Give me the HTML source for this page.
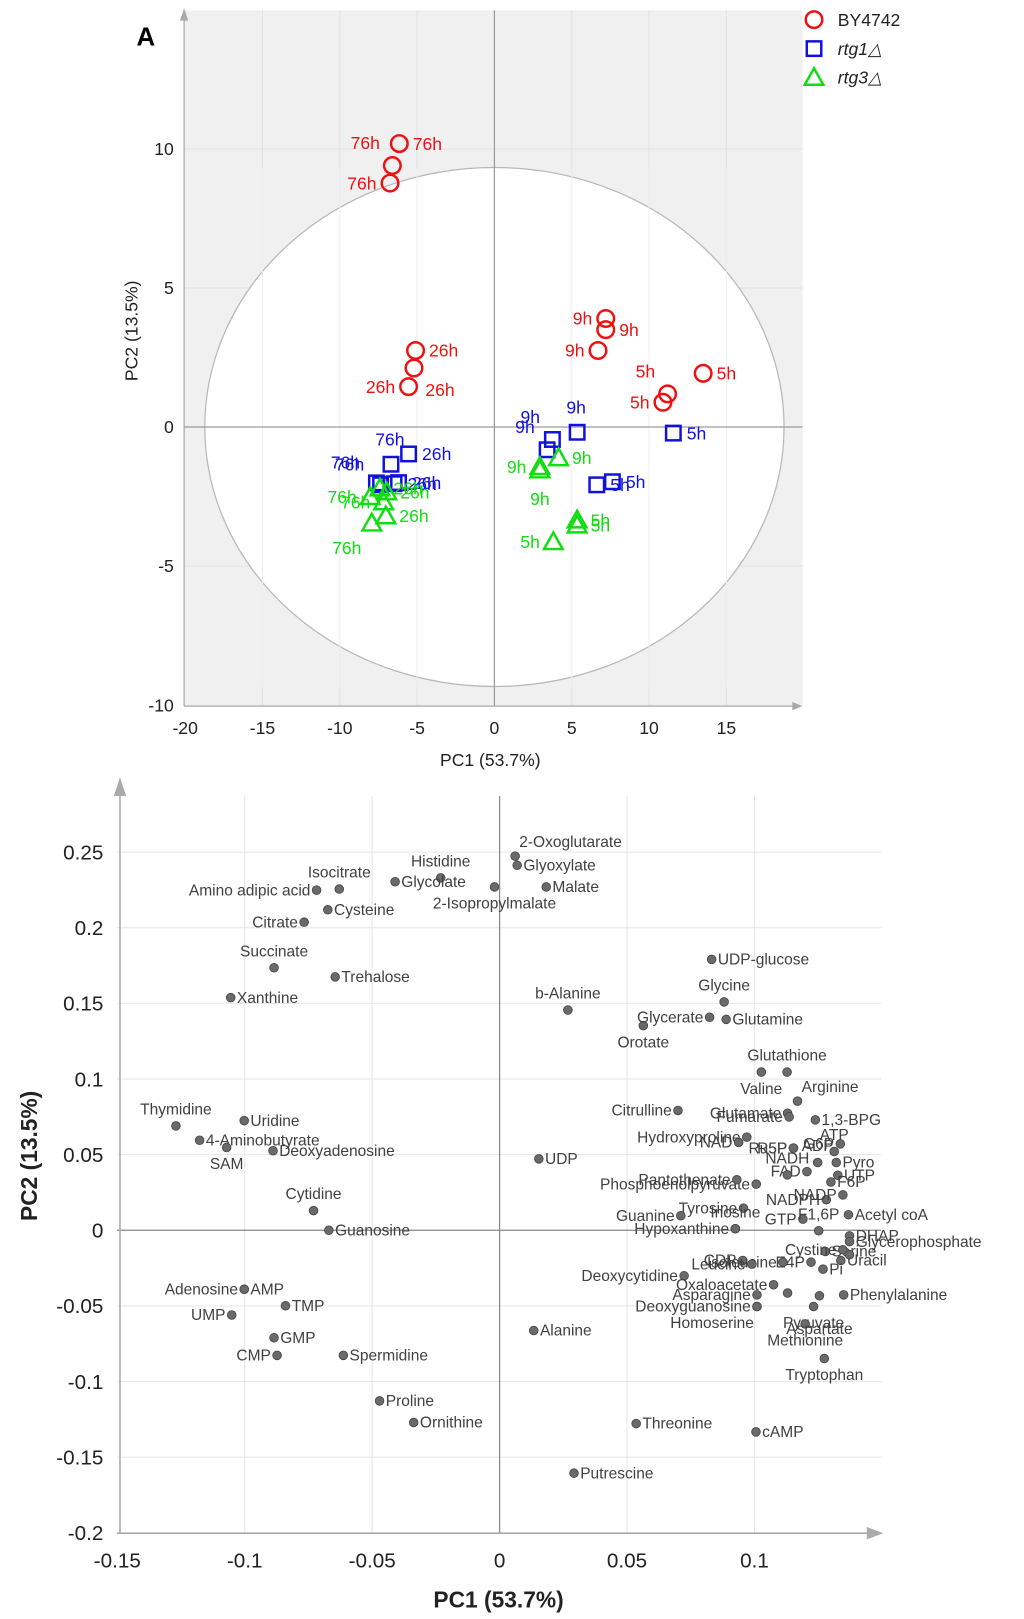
<!DOCTYPE html>
<html><head><meta charset="utf-8"><style>
html,body{margin:0;padding:0;background:#fff}
svg{display:block}
text{font-family:"Liberation Sans",sans-serif}
</style></head><body>
<svg id="s" width="1024" height="1619" viewBox="0 0 990 1566" preserveAspectRatio="none" xmlns="http://www.w3.org/2000/svg"></svg>
<script>
// ---------- Score plot data ----------
const scoreSeries = ["BY4742","rtg1","rtg3"];
const scoreGroup = [0,0,0,0,0,0,0,0,0,0,0,0, 1,1,1,1,1,1,1,1,1,1,1,1, 2,2,2,2,2,2,2,2,2,2,2,2];
const scoreX = [-6.15,-6.6,-6.75,-5.1,-5.2,-5.55,7.2,7.2,6.7,13.5,11.2,10.9,
  -5.55,-6.69,-7.63,-7.36,-6.49,-6.2,3.75,3.41,5.35,6.62,7.63,11.57,
  -8.03,-7.16,-7.93,-7.02,-6.96,-7.4,2.94,2.94,4.15,5.35,5.35,3.81];
const scoreY = [10.19,9.4,8.77,2.75,2.12,1.45,3.9,3.5,2.75,1.93,1.19,0.89,
  -0.97,-1.34,-2.01,-2.08,-2.04,-2.0,-0.45,-0.82,-0.19,-2.08,-1.97,-0.22,
  -2.51,-2.7,-3.46,-3.2,-2.34,-2.2,-1.43,-1.55,-1.11,-3.35,-3.53,-4.13];
const scoreLabel = ["76h","76h","76h","26h","26h","26h","9h","9h","9h","5h","5h","5h",
  "26h","76h","76h","76h","26h","26h","9h","9h","9h","5h","5h","5h",
  "76h","76h","76h","26h","26h","26h","9h","9h","9h","5h","5h","5h"];
const scoreLabelPos = ["r","tl","l","r","br","l","l","r","l","r","tl","l",
  "r","t","t2","t2","r","r","tl","tl","t","r","r","r",
  "l","l","l2","r","r","r","l","b","r","r","r","l"];
const xTicks = [-20,-15,-10,-5,0,5,10,15];
const yTicks = [-10,-5,0,5,10];
// ---------- Loading plot data ----------
const loadNames = ["2-Oxoglutarate","Glyoxylate","Malate","2-Isopropylmalate","Histidine","Glycolate","Isocitrate","Amino adipic acid","Cysteine","Citrate","Succinate","Trehalose","Xanthine",
 "UDP-glucose","Glycine","b-Alanine","Orotate","Glycerate","Glutamine","Valine","Glutathione","Arginine",
 "Citrulline","Glutamate","Fumarate","1,3-BPG","Hydroxyproline","NAD","R5P","Ru5P","G6P","ATP","Pyro","ADP","FAD","NADH","Phosphoenolpyruvate","UTP","F6P","NADPH","NADP","Tyrosine","Pantothenate","Guanine","GTP","Acetyl coA","Inosine","F1,6P","DHAP","Glycerophosphate","Serine","Cystine","Uracil","CDP","E4P","Isoleucine","Leucine","Pi","Hypoxanthine","Deoxycytidine","Oxaloacetate","Lysine","Asparagine","Deoxyguanosine","Homoserine","Proline2","Phenylalanine","Pyruvate","Methionine","Aspartate","Tryptophan","cAMP","Threonine","Putrescine","Alanine","UDP",
 "Thymidine","Uridine","4-Aminobutyrate","SAM","Deoxyadenosine","Cytidine","Guanosine","Adenosine","AMP","TMP","UMP","GMP","CMP","Spermidine","Proline","Ornithine"];
const loadX = [0.0061,0.0069,0.0183,-0.002,-0.0231,-0.041,-0.0629,-0.0718,-0.0674,-0.0767,-0.0885,-0.0645,-0.1055,
 0.0832,0.0881,0.0268,0.0564,0.0824,0.0889,0.1027,0.1128,0.1169,
 0.07,0.113,0.1136,0.1239,0.097,0.0938,0.1153,0.1153,0.1337,0.1313,0.1321,0.1248,0.1206,0.1129,0.1007,0.1327,0.13,0.1282,0.1347,0.0957,0.0931,0.0711,0.119,0.1369,0.0925,0.1252,0.1373,0.1373,0.1278,0.1347,0.1339,0.0954,0.1222,0.1112,0.099,0.1269,0.0925,0.0724,0.1075,0.113,0.101,0.101,0.101,0.1373,0.135,0.1232,0.1199,0.1255,0.1274,0.1006,0.0536,0.0292,0.0134,0.0154,
 -0.127,-0.1002,-0.1177,-0.1071,-0.0889,-0.073,-0.067,-0.1002,-0.1002,-0.084,-0.1051,-0.0885,-0.0873,-0.0613,-0.0471,-0.0337];
const loadY = [0.2474,0.2413,0.227,0.227,0.233,0.2304,0.2256,0.2249,0.2119,0.2037,0.1736,0.1675,0.1538,
 0.1791,0.151,0.1456,0.1353,0.1408,0.1394,0.1046,0.1046,0.0854,
 0.0792,0.0774,0.075,0.073,0.0616,0.0581,0.0543,0.0543,0.0571,0.0521,0.0448,0.0448,0.0388,0.0366,0.0305,0.0364,0.0319,0.0202,0.0234,0.0146,0.0334,0.0096,0.0074,0.0103,0.001,-0.0003,-0.0037,-0.0075,-0.014,-0.0129,-0.02,-0.02,-0.0211,-0.0211,-0.0224,-0.0257,0.001,-0.0301,-0.036,-0.0415,-0.0427,-0.0504,-0.0504,-0.0162,-0.0427,-0.0504,-0.0619,-0.0433,-0.0848,-0.1333,-0.1278,-0.1606,-0.0663,0.0472,
 0.069,0.0725,0.0595,0.0547,0.0526,0.013,0,-0.039,-0.039,-0.0499,-0.056,-0.0711,-0.0827,-0.0827,-0.1128,-0.1271];
const loadPos = ["tr","r","r","b","t","r","t","l","r","l","t","r","r",
 "r","t","t","b","l","r","b","t","tr",
 "l","l","l","r","l","l","l","l","l","t","r","t","l","t","l","r","r","l","l","l","l","l","l","r","t","t","r","r","r","l","r","l","l","l","l","r","l","l","l","n","l","l","bl","n","r","b","b","b2","b","r","r","r","r","r",
 "t","r","r","b","r","t","r","l","r","r","l","r","l","r","r","r"];
const lxTicks = [-0.15,-0.1,-0.05,0,0.05,0.1];
const lyTicks = [-0.2,-0.15,-0.1,-0.05,0,0.05,0.1,0.15,0.2,0.25];

const S = document.getElementById('s');
const NS = "http://www.w3.org/2000/svg";
function mk(tag, attrs, parent, txt){
  const e = document.createElementNS(NS, tag);
  for (const k in attrs) e.setAttribute(k, attrs[k]);
  if (txt !== undefined) e.textContent = txt;
  (parent || S).appendChild(e);
  return e;
}
// ---------- Score plot ----------
const sx = v => 478 + v*14.95;
const sy = v => 413 - v*26.9;
const g1 = mk('g', {});  
let r = mk('rect',{x:178,y:10,width:598,height:673,fill:'#f0f0f0'},g1);
 
xTicks.forEach(t=>{ if(t!==0 && t!==-20){ let l=mk('line',{x1:sx(t),x2:sx(t),y1:10,y2:683,stroke:'#e2e2e2'},g1);  }});
yTicks.forEach(t=>{ if(t!==0 && t!==-10){ let l=mk('line',{x1:178,x2:776,y1:sy(t),y2:sy(t),stroke:'#e2e2e2'},g1);  }});
let el = mk('ellipse',{cx:sx(0),cy:sy(0),rx:280,ry:251,fill:'#fff',stroke:'#b8b8b8','stroke-width':1.2},g1);
 
xTicks.forEach(t=>{ if(t!==0 && t!==-20){ let l=mk('line',{x1:sx(t),x2:sx(t),y1:162,y2:665,stroke:'#eeeeee'},g1);  }});
let z1=mk('line',{x1:sx(0),x2:sx(0),y1:10,y2:683,stroke:'#9a9a9a','stroke-width':1.2},g1);  
let z2=mk('line',{x1:178,x2:776,y1:sy(0),y2:sy(0),stroke:'#9a9a9a','stroke-width':1.2},g1);  
let ax=mk('line',{x1:178,x2:770,y1:683,y2:683,stroke:'#aaa','stroke-width':1.2},g1);  
let ay=mk('line',{x1:178,x2:178,y1:683,y2:16,stroke:'#aaa','stroke-width':1.2},g1);  
let ar1=mk('path',{d:'M776 683 L766 679 L766 687 Z',fill:'#aaa'},g1);  
let ar2=mk('path',{d:'M178 8 L174 20 L182 20 Z',fill:'#aaa'},g1);  
xTicks.forEach(t=>{ let tx=mk('text',{x:sx(t),y:710,'font-size':17,'text-anchor':'middle',fill:'#222'},g1,String(t));  });
yTicks.forEach(t=>{ let tx=mk('text',{x:168,y:sy(t)+6,'font-size':17,'text-anchor':'end',fill:'#222'},g1,String(t));  });
let xt=mk('text',{x:474,y:741,'font-size':17,'text-anchor':'middle',fill:'#222'},g1,'PC1 (53.7%)');  
let yt=mk('text',{x:0,y:0,'font-size':17,'text-anchor':'middle',fill:'#222',transform:'translate(133,320) rotate(-90)'},g1,'PC2 (13.5%)');  
let pa=mk('text',{x:132,y:44,'font-size':25,'font-weight':'bold',fill:'#000'},g1,'A');  
const colors=['#ee1111','#1111dd','#11dd11'];
function marker(g, type, x, y, parent){
  const c = colors[type];
  if(type===0) return mk('circle',{cx:x,cy:y,r:8,fill:'none',stroke:c,'stroke-width':2.4},parent);
  if(type===1) return mk('rect',{x:x-7,y:y-7,width:14,height:14,fill:'none',stroke:c,'stroke-width':2.4},parent);
  return mk('path',{d:`M${x} ${y-9} L${x+9} ${y+7} L${x-9} ${y+7} Z`,fill:'none',stroke:c,'stroke-width':2.4,'stroke-linejoin':'miter'},parent);
}
const offs = {r:[13,6,'start'],l:[-13,6,'end'],tl:[-12,-16,'end'],br:[11,27,'start'],t:[-1,-18,'middle'],t2:[-30,-14,'middle'],l2:[-10,30,'end'],b:[0,34,'middle']};
for(let i=0;i<scoreX.length;i++){
  const x=sx(scoreX[i]), y=sy(scoreY[i]), gi=scoreGroup[i];
  const m = marker(gi,gi,x,y,g1);
  
  
  const o = offs[scoreLabelPos[i]];
  const t = mk('text',{x:x+o[0],y:y+o[1],'font-size':17,'text-anchor':o[2],fill:colors[gi]},g1,scoreLabel[i]);
  
  
}
// legend
const lg = mk('g',{},g1);  
const legTxt=[['BY4742',false],['rtg1△',true],['rtg3△',true]];
legTxt.forEach((d,i)=>{
  const y=19+i*28;
  const m=marker(i,i,787,y,lg);
  
  
  const t=mk('text',{x:810,y:y+6,'font-size':17,fill:'#222','font-style':d[1]?'italic':'normal'},lg,d[0]);
  
  
});
// ---------- Loading plot ----------
const lx = v => 483 + v*2464;
const ly = v => 1190 - v*1463;
const g2 = mk('g',{});  
lxTicks.forEach(t=>{ if(t!==0 && t!==-0.15){ let l=mk('line',{x1:lx(t),x2:lx(t),y1:770,y2:1483,stroke:'#e6e6e6'},g2);  }});
lyTicks.forEach(t=>{ if(t!==0 && t!==-0.2){ let l=mk('line',{x1:113,x2:852,y1:ly(t),y2:ly(t),stroke:'#e6e6e6'},g2);  }});
let lz1=mk('line',{x1:lx(0),x2:lx(0),y1:770,y2:1483,stroke:'#888','stroke-width':1.2},g2);  
let lz2=mk('line',{x1:113,x2:852,y1:ly(0),y2:ly(0),stroke:'#888','stroke-width':1.2},g2);  
let lax=mk('line',{x1:113,x2:842,y1:1483,y2:1483,stroke:'#aaa','stroke-width':1.5},g2);  
let lay=mk('line',{x1:116,x2:116,y1:1483,y2:765,stroke:'#aaa','stroke-width':1.5},g2);  
let la1=mk('path',{d:'M854 1483 L838 1477 L838 1489 Z',fill:'#aaa'},g2);  
let la2=mk('path',{d:'M116 752 L110 770 L122 770 Z',fill:'#aaa'},g2);  
const fmt = t => t===0 ? '0' : String(t).replace('0.','0.').replace('-0.','-0.');
lxTicks.forEach(t=>{ let tx=mk('text',{x:lx(t),y:1516,'font-size':20,'text-anchor':'middle',fill:'#222'},g2,fmt(t));  });
lyTicks.forEach(t=>{ let tx=mk('text',{x:100,y:ly(t)+7,'font-size':20,'text-anchor':'end',fill:'#222'},g2,fmt(t));  });
let lxt=mk('text',{x:482,y:1555,'font-size':22,'font-weight':'bold','text-anchor':'middle',fill:'#222'},g2,'PC1 (53.7%)');  
let lyt=mk('text',{x:0,y:0,'font-size':22,'font-weight':'bold','text-anchor':'middle',fill:'#222',transform:'translate(36,1118) rotate(-90)'},g2,'PC2 (13.5%)');  
const loffs = {r:[6,5,'start'],l:[-6,5,'end'],t:[0,-11,'middle'],tr:[4,-9,'start'],b:[0,21,'middle'],b2:[0,37,'middle'],bl:[-3,21,'end'],n:null};
for(let i=0;i<loadX.length;i++){
  const x=lx(loadX[i]), y=ly(loadY[i]);
  const c=mk('circle',{cx:x,cy:y,r:4.2,fill:'#6a6a6a',stroke:'#444','stroke-width':0.8},g2);
  
  
  const o=loffs[loadPos[i]];
  if(!o) continue;
  const t=mk('text',{x:x+o[0],y:y+o[1],'font-size':15,'text-anchor':o[2],fill:'#404040'},g2,loadNames[i]);
  
  
}
</script>
</body></html>
